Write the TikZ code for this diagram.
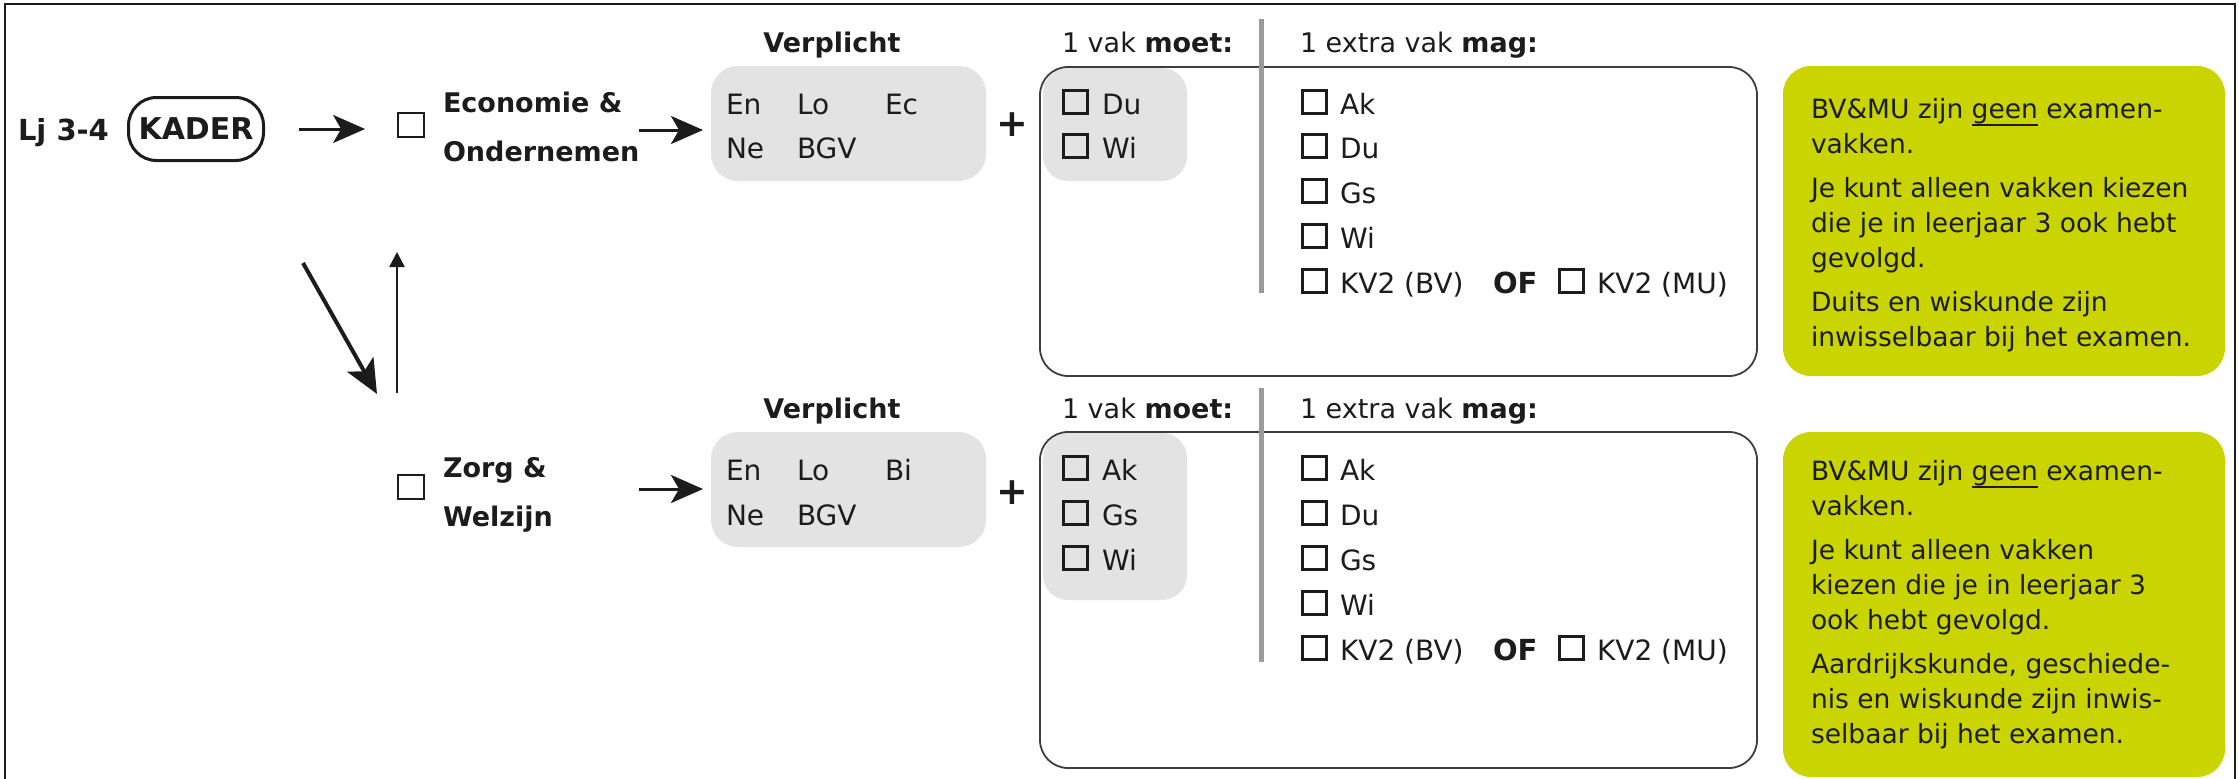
\documentclass[tikz,border=0pt]{standalone}
\usepackage{fontspec}
\setmainfont{DejaVu Sans}
\usetikzlibrary{arrows.meta}
\definecolor{lime}{RGB}{201,212,0}
\definecolor{lgray}{RGB}{227,227,227}
\definecolor{sepgray}{RGB}{155,155,155}
\definecolor{ink}{RGB}{28,28,28}
\newcommand\myul[1]{\setbox0\hbox{#1}\rlap{\rule[-8pt]{\wd0}{1.8pt}}#1}
\newcommand\fitem{\fontsize{28}{34}\selectfont}
\newcommand\fhead{\fontsize{27}{49}\selectfont}
\newcommand\fgreen{\fontsize{26.5}{35}\selectfont}
\newcommand\flj{\fontsize{29}{34}\selectfont}
\newcommand\fkader{\fontsize{30}{34}\selectfont}
\newcommand\fplus{\fontsize{38}{40}\selectfont}
\begin{document}
\begin{tikzpicture}[x=1pt,y=-1pt,
  every node/.style={inner sep=0pt, outer sep=0pt, text=ink},
  item/.style={font=\fitem, anchor=base west},
  head/.style={font=\fhead, anchor=base west},
  cb/.style={draw=ink, line width=3pt, minimum width=24pt, minimum height=23pt, anchor=center},
  bigcb/.style={draw=ink, line width=2.2pt, minimum width=25.8pt, minimum height=23.8pt, anchor=center},
  greybox/.style={fill=lgray, rounded corners=27pt, minimum width=275pt},
  smallgrey/.style={fill=lgray, rounded corners=25pt, minimum width=144pt},
  bigbox/.style={draw=ink!85, line width=1.8pt, rounded corners=28pt, minimum width=717pt},
  limebox/.style={fill=lime, rounded corners=28pt, minimum width=442pt},
  arr/.style={draw=ink, line width=3pt, -{Stealth[length=32pt,width=28pt,inset=8pt]}},
  darr/.style={draw=ink, line width=4pt, -{Stealth[length=34pt,width=30pt,inset=8pt]}},
  uarr/.style={draw=ink, line width=2.5pt, -{Triangle[length=15pt,width=15pt]}},
  sep/.style={draw=sepgray, line width=5pt},
  greentext/.style={font=\fgreen, anchor=base west}
]
\useasboundingbox (0,0) rectangle (2239,779);
% frame
\draw[ink, line width=2.5pt] (5,779) -- (5,4) -- (2235,4) -- (2235,779);

% left part
\node[font=\flj\bfseries, anchor=base west] (lj) at (18,140) {Lj 3-4};
\node[draw=ink, line width=3pt, rounded corners=28pt, minimum width=135pt, minimum height=63pt, font=\fkader\bfseries] (kader) at (196,129) {KADER};

\node[bigcb] (eocb) at (411,125) {};
\node[anchor=base west, font=\fhead\bfseries] (eo) at (443,112) {\begin{tabular}[t]{@{}l@{}}Economie \&\\Ondernemen\end{tabular}};
\node[bigcb] (zwcb) at (411,487) {};
\node[anchor=base west, font=\fhead\bfseries] (zw) at (443,477) {\begin{tabular}[t]{@{}l@{}}Zorg \&\\Welzijn\end{tabular}};

\draw[arr, shorten <=35pt, shorten >=33pt] (kader.east) -- (kader.east -| eocb.west);

\coordinate (ds) at (303,263);
\coordinate (de) at (377,394);
\draw[darr] (ds) -- (de);
\coordinate (us) at (397,393);
\coordinate (ue) at (397,252);
\draw[uarr] (us) -- (ue);

% ===== top row =====
\node[greybox, minimum height=115pt] (v1) at (848.5,123.5) {};
\node[font=\fhead\bfseries, anchor=base] (vh1) at (832,52) {Verplicht};
\node[item] (e1) at (726,114) {En};
\node[item] (l1) at (797,114) {Lo};
\node[item] (c1) at (885,114) {Ec};
\node[item] (n1) at (726,158) {Ne};
\node[item] (b1) at (797,158) {BGV};
\coordinate (eoa) at (639,130);
\draw[arr, shorten >=8pt] (eoa) -- (eoa -| v1.west);
\node[font=\fplus\bfseries] (p1) at (1012,125) {+};

\node[head] (mh1) at (1062,52) {1 vak \textbf{moet:}};
\node[head] (xh1) at (1300,52) {1 extra vak \textbf{mag:}};
\node[smallgrey, minimum height=113pt] (s1) at (1115,124.5) {};
\node[bigbox, minimum height=309pt] (m1) at (1398.5,221.5) {};
\draw[sep] (1261,19) -- (1261,293);

\node[cb] (cbm1a) at (1075.5,102) {};
\node[item] (tm1a) at (1102,114) {Du};
\node[cb] (cbm1b) at (1075.5,146) {};
\node[item] (tm1b) at (1102,158) {Wi};

\node[cb] (cbx1a) at (1314.5,102) {};
\node[item] (tx1a) at (1340,114) {Ak};
\node[cb] (cbx1b) at (1314.5,146) {};
\node[item] (tx1b) at (1340,158) {Du};
\node[cb] (cbx1c) at (1314.5,191) {};
\node[item] (tx1c) at (1340,203) {Gs};
\node[cb] (cbx1d) at (1314.5,236) {};
\node[item] (tx1d) at (1340,248) {Wi};
\node[cb] (cbx1e) at (1314.5,281) {};
\node[item] (tx1e) at (1340,293) {KV2 (BV)};
\node[item, font=\fontsize{29}{34}\selectfont\bfseries] (of1) at (1493,293) {OF};
\node[cb] (cbx1f) at (1571.5,281) {};
\node[item] (tx1f) at (1597,293) {KV2 (MU)};

\node[limebox, minimum height=310pt] (g1) at (2004,221) {};
\node[greentext] (g1t) at (1811,118) {\begin{tabular}[t]{@{}l@{}}BV\&MU zijn \myul{geen} examen-\\vakken.\\[9pt]Je kunt alleen vakken kiezen\\die je in leerjaar 3 ook hebt\\gevolgd.\\[9pt]Duits en wiskunde zijn\\inwisselbaar bij het examen.\end{tabular}};

% ===== bottom row =====
\node[greybox, minimum height=115pt] (v2) at (848.5,489.5) {};
\node[font=\fhead\bfseries, anchor=base] (vh2) at (832,418) {Verplicht};
\node[item] (e2) at (726,480) {En};
\node[item] (l2) at (797,480) {Lo};
\node[item] (c2) at (885,480) {Bi};
\node[item] (n2) at (726,525) {Ne};
\node[item] (b2) at (797,525) {BGV};
\coordinate (zwa) at (639,489);
\draw[arr, shorten >=8pt] (zwa) -- (zwa -| v2.west);
\node[font=\fplus\bfseries] (p2) at (1012,493) {+};

\node[head] (mh2) at (1062,418) {1 vak \textbf{moet:}};
\node[head] (xh2) at (1300,418) {1 extra vak \textbf{mag:}};
\node[smallgrey, minimum height=167pt] (s2) at (1115,516.5) {};
\node[bigbox, minimum height=336pt] (m2) at (1398.5,600) {};
\draw[sep] (1261,388) -- (1261,662);

\node[cb] (cbm2a) at (1075.5,468) {};
\node[item] (tm2a) at (1102,480) {Ak};
\node[cb] (cbm2b) at (1075.5,513) {};
\node[item] (tm2b) at (1102,525) {Gs};
\node[cb] (cbm2c) at (1075.5,558) {};
\node[item] (tm2c) at (1102,570) {Wi};

\node[cb] (cbx2a) at (1314.5,468) {};
\node[item] (tx2a) at (1340,480) {Ak};
\node[cb] (cbx2b) at (1314.5,513) {};
\node[item] (tx2b) at (1340,525) {Du};
\node[cb] (cbx2c) at (1314.5,558) {};
\node[item] (tx2c) at (1340,570) {Gs};
\node[cb] (cbx2d) at (1314.5,603) {};
\node[item] (tx2d) at (1340,615) {Wi};
\node[cb] (cbx2e) at (1314.5,648) {};
\node[item] (tx2e) at (1340,660) {KV2 (BV)};
\node[item, font=\fontsize{29}{34}\selectfont\bfseries] (of2) at (1493,660) {OF};
\node[cb] (cbx2f) at (1571.5,648) {};
\node[item] (tx2f) at (1597,660) {KV2 (MU)};

\node[limebox, minimum height=345pt] (g2) at (2004,604.5) {};
\node[greentext] (g2t) at (1811,480) {\begin{tabular}[t]{@{}l@{}}BV\&MU zijn \myul{geen} examen-\\vakken.\\[9pt]Je kunt alleen vakken\\kiezen die je in leerjaar 3\\ook hebt gevolgd.\\[9pt]Aardrijkskunde, geschiede-\\nis en wiskunde zijn inwis-\\selbaar bij het examen.\end{tabular}};
\end{tikzpicture}
\end{document}
